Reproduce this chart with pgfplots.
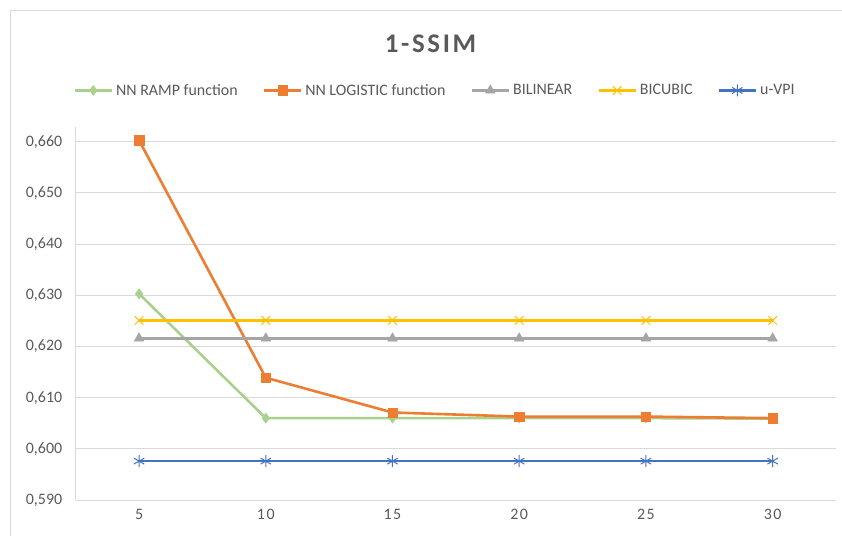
\documentclass[border=0pt]{standalone}
\usepackage{fontspec}
\setmainfont{Carlito}
\usepackage{pgfplots}
\pgfplotsset{compat=1.18}
\definecolor{cgreen}{HTML}{A9D18E}
\definecolor{corange}{HTML}{ED7D31}
\definecolor{cgray}{HTML}{A5A5A5}
\definecolor{cyellow}{HTML}{FFC000}
\definecolor{cblue}{HTML}{4472C4}
\definecolor{ctext}{HTML}{595959}
\definecolor{cgrid}{HTML}{D9D9D9}
\begin{document}
\begin{tikzpicture}
\useasboundingbox (0,0) rectangle (842bp,536bp);
\draw[cgrid, line width=1bp] (10bp,-2bp) -- (10bp,525.3bp) -- (845bp,525.3bp);
\node[font=\fontsize{27}{30}\selectfont\bfseries\addfontfeature{LetterSpace=10}, text=ctext] at (430.5bp,492bp) {1-SSIM};
\begin{axis}[
  at={(75.7bp,36bp)}, anchor=south west,
  scale only axis, width=760.3bp, height=373bp,
  xmin=-0.5, xmax=5.5,
  ymin=0.590, ymax=0.6629,
  xtick={0,1,2,3,4,5},
  xticklabels={5,1\kern1.5bp 0,1\kern1.5bp 5,2\kern1.5bp 0,2\kern1.5bp 5,3\kern1.5bp 0},
  ytick={0.590,0.600,0.610,0.620,0.630,0.640,0.650,0.660},
  yticklabel style={xshift=-10bp, /pgf/number format/fixed, /pgf/number format/fixed zerofill, /pgf/number format/precision=3, /pgf/number format/use comma, /pgf/number format/assume math mode=true},
  ticklabel style={font=\fontsize{16}{18}\selectfont, text=ctext},
  xticklabel style={yshift=-6bp},
  major tick length=0pt,
  axis x line*=bottom, axis y line*=left,
  axis line style={cgrid, line width=1bp, -},
  ymajorgrids, grid style={cgrid, line width=1bp},
  clip=false,
  legend columns=5,
  legend style={at={(rel axis cs:0.4714,1.098)}, anchor=center, draw=none, fill=none,
    font=\fontsize{16}{18}\selectfont, text=ctext,
    /tikz/every odd column/.append style={column sep=3bp},
    /tikz/every even column/.append style={column sep=25bp},
    nodes={inner xsep=0pt}},
  legend image code/.code={\draw[mark repeat=2,mark phase=2] plot coordinates {(0bp,0bp) (18.5bp,0bp) (37bp,0bp)};},
  every axis plot/.append style={line width=2.6bp},
]
\addplot[cgreen, mark=diamond*, mark size=5bp, mark options={line width=0.5bp}] coordinates {(0,0.6303) (1,0.6060) (2,0.6060) (3,0.6060) (4,0.6060) (5,0.6059)};
\addlegendentry{NN RAMP function}
\addplot[corange, mark=square*, mark size=4.7bp, mark options={line width=0.5bp}] coordinates {(0,0.6603) (1,0.6139) (2,0.6071) (3,0.6063) (4,0.6063) (5,0.6060)};
\addlegendentry{NN LOGISTIC function}
\addplot[cgray, mark=triangle*, mark size=5.5bp, mark options={line width=0.5bp}] coordinates {(0,0.6216) (1,0.6216) (2,0.6216) (3,0.6216) (4,0.6216) (5,0.6216)};
\addlegendentry{BILINEAR}
\addplot[cyellow, mark=x, mark size=6bp, mark options={line width=1bp}] coordinates {(0,0.6251) (1,0.6251) (2,0.6251) (3,0.6251) (4,0.6251) (5,0.6251)};
\addlegendentry{BICUBIC}
\addplot[cblue, mark=asterisk, mark size=6bp, mark options={line width=1bp}] coordinates {(0,0.5976) (1,0.5976) (2,0.5976) (3,0.5976) (4,0.5976) (5,0.5976)};
\addlegendentry{u-VPI}
\end{axis}
\end{tikzpicture}
\end{document}
